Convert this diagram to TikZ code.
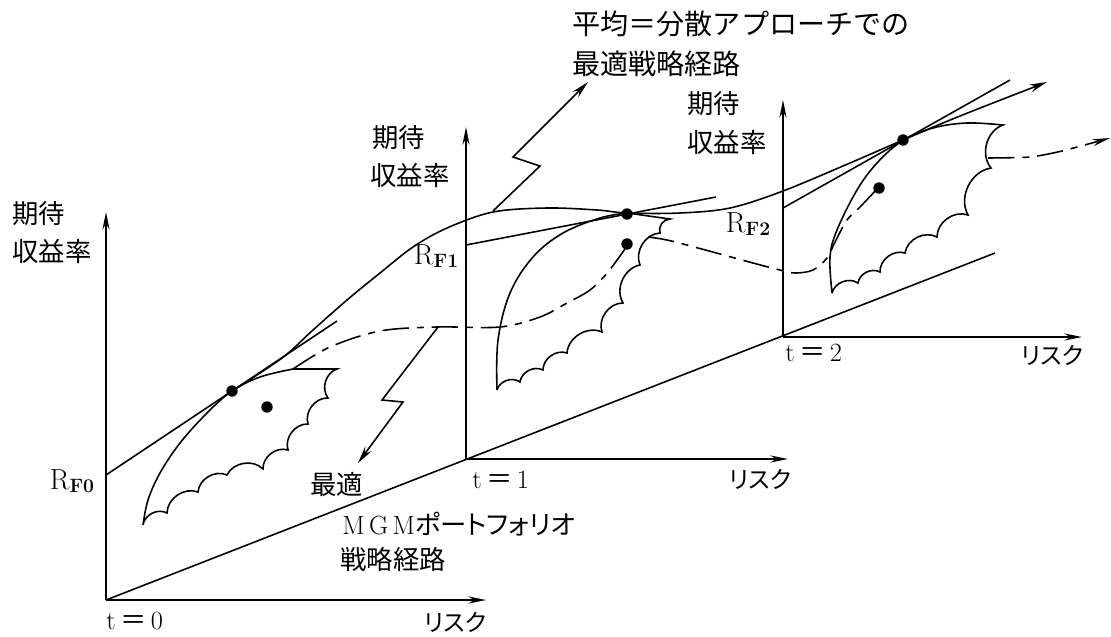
\documentclass[tikz,border=0pt]{standalone}
\usepackage{fontspec}
\usetikzlibrary{arrows.meta}
\newfontfamily\cjk{Noto Sans CJK JP}
\newfontfamily\cjkp[RawFeature=+palt]{Noto Sans CJK JP}
\newcommand{\rsub}[1]{{\fontsize{16.5pt}{19pt}\selectfont R}\raisebox{-0.45ex}{\fontsize{11pt}{13pt}\selectfont\bfseries #1}}
\begin{document}
\begin{tikzpicture}[x=0.02cm,y=-0.02cm,
  axis/.style={line width=1.3pt,-{Stealth[length=10pt,width=4pt]}},
  curve/.style={line width=0.9pt},
  arr/.style={line width=0.9pt,-{Stealth[length=10pt,width=4.5pt]}},
  mgm/.style={line width=0.9pt,dash pattern=on 15pt off 4.5pt on 4pt off 4.5pt},
  dot/.style={circle,fill=black,inner sep=0pt,minimum size=6.5pt},
  jlab/.style={font=\fontsize{15pt}{18pt}\selectfont\cjk,inner sep=0pt},
  jtop/.style={font=\fontsize{16pt}{19pt}\selectfont\cjk,inner sep=0pt},
  risk/.style={font=\fontsize{13.5pt}{16pt}\selectfont\cjkp,inner sep=0pt},
  tlab/.style={font=\fontsize{15pt}{18pt}\selectfont,inner sep=0pt},
  rlab/.style={inner sep=0pt},
  sc/.style={bend right=55}
]
\useasboundingbox (0,0) rectangle (1111,636);

% origins and axis ends
\coordinate (O0) at (106,600); \coordinate (O1) at (466,459); \coordinate (O2) at (783,337);
\coordinate (Y0) at (106,212); \coordinate (Y1) at (466,127); \coordinate (Y2) at (783,100);
\coordinate (X0) at (486,600); \coordinate (X1) at (788,459); \coordinate (X2) at (1082,337);
\coordinate (D) at (995,253);
\coordinate (RF0) at (106,475); \coordinate (RF1) at (466,245); \coordinate (RF2) at (783,208);
\coordinate (L0) at (337,321); \coordinate (L1) at (716,197); \coordinate (L2) at (1010,80);

% axes
\draw[axis] (O0) -- (Y0); \draw[axis] (O0) -- (X0);
\draw[axis] (O1) -- (Y1); \draw[axis] (O1) -- (X1);
\draw[axis] (O2) -- (Y2); \draw[axis] (O2) -- (X2);
\draw[curve] (O0) -- (D);

% tangent lines
\draw[curve] (RF0) -- (L0);
\draw[curve] (RF1) -- (L1);
\draw[curve] (RF2) -- (L2);

% bat 0
\draw[curve] plot[smooth,tension=0.6] coordinates {(143,525) (148,500) (160,473) (180,443) (207,413) (232,391) (260,377) (293,369)}
  -- (337,369) to[sc] (328,398) to[sc] (308,424) to[sc] (288,450) to[sc] (263,469)
  to[sc] (227,475) to[sc] (198,492) to[sc] (167,513) to[sc] (143,525);
% bat 1
\draw[curve] plot[smooth,tension=0.6] coordinates {(497,390) (498,340) (510,293) (533,257) (563,233) (600,218) (627,213)}
  -- (670,219) to[sc] (660,233) to[sc] (640,265) to[sc] (623,303) to[sc] (602,332)
  to[sc] (567,353) to[sc] (543,370) to[sc] (520,382) to[sc] (497,390);
% bat 2
\draw[curve] plot[smooth,tension=0.6] coordinates {(832,293) (830,257) (837,230) (857,190) (877,163) (902,141) (933,128) (967,123) (1003,125)}
  to[sc] (991,168) to[sc] (968,215) to[sc] (937,237) to[sc] (905,253)
  to[sc] (880,272) to[sc] (858,283) to[sc] (832,293);

% mean-variance optimal path
\draw[arr] plot[smooth,tension=0.55] coordinates {(232,391) (282,358) (313,330) (347,300) (380,273) (413,247) (447,228) (493,212) (547,208) (597,210) (627,213) (680,213) (730,208) (783,191) (850,163) (903,140) (960,116) (1047,82)};

% MGM optimal path
\draw[mgm] plot[smooth,tension=0.55] coordinates {(293,369) (330,347) (380,331) (437,327) (500,327) (540,317) (567,303) (590,290) (608,272) (627,246)};
\draw[mgm] plot[smooth,tension=0.55] coordinates {(648,237) (667,240) (698,248) (753,263) (780,270) (795,273) (813,270) (827,258) (835,242) (847,220) (860,207) (878,188)};
\draw[mgm,-{Stealth[length=10pt,width=4pt]}] plot[smooth,tension=0.4] coordinates {(988,158) (1030,157) (1062,151) (1110,138)};

% dots
\node[dot] (T0) at (232,391) {}; \node[dot] (M0) at (267,407) {};
\node[dot] (T1) at (627,214) {}; \node[dot] (M1) at (627,244) {};
\node[dot] (T2) at (903,140) {}; \node[dot] (M2) at (879,188) {};

% zigzag pointers
\coordinate (ZA0) at (493,211); \coordinate (ZA1) at (540,166); \coordinate (ZA2) at (513,157); \coordinate (ZA3) at (588,82);
\draw[arr] (ZA0) -- (ZA1) -- (ZA2) -- (ZA3);
\coordinate (ZB0) at (438,327); \coordinate (ZB1) at (382,400); \coordinate (ZB2) at (403,402); \coordinate (ZB3) at (358,463);
\draw[arr] (ZB0) -- (ZB1) -- (ZB2) -- (ZB3);

% labels
\node[jlab,anchor=west] (q0a) at (12,214) {期待};
\node[jlab,anchor=west] (q0b) at (12,251) {収益率};
\node[jlab,anchor=west] (q1a) at (372,138) {期待};
\node[jlab,anchor=west] (q1b) at (370,175) {収益率};
\node[jlab,anchor=west] (q2a) at (687,104) {期待};
\node[jlab,anchor=west] (q2b) at (687,142) {収益率};

\node[jtop,anchor=west] (top1) at (572,24) {平均＝分散アプローチでの};
\node[jtop,anchor=west] (top2) at (572,64) {最適戦略経路};

\node[jlab,anchor=west] (b1) at (310,484) {最適};
\node[jlab,anchor=west] (b2) at (342,524) {{\rmfamily\fontsize{15pt}{18pt}\selectfont M\,G\,M}{\cjkp ポートフォリオ}};
\node[jlab,anchor=west] (b3) at (340,559) {戦略経路};

\node[risk] (r0) at (455,622) {リスク};
\node[risk] (r1) at (760,479) {リスク};
\node[risk] (r2) at (1052,355) {リスク};

\node[tlab,anchor=west] (t0) at (106,621) {t\,{\cjk ＝}\,0};
\node[tlab,anchor=west] (t1) at (472,480) {t\,{\cjk ＝}\,1};
\node[tlab,anchor=west] (t2) at (785,353) {t\,{\cjk ＝}\,2};

\node[rlab] (rf0) at (72,481) {\rsub{F0}};
\node[rlab] (rf1) at (436,256) {\rsub{F1}};
\node[rlab] (rf2) at (748,224) {\rsub{F2}};
\end{tikzpicture}
\end{document}
